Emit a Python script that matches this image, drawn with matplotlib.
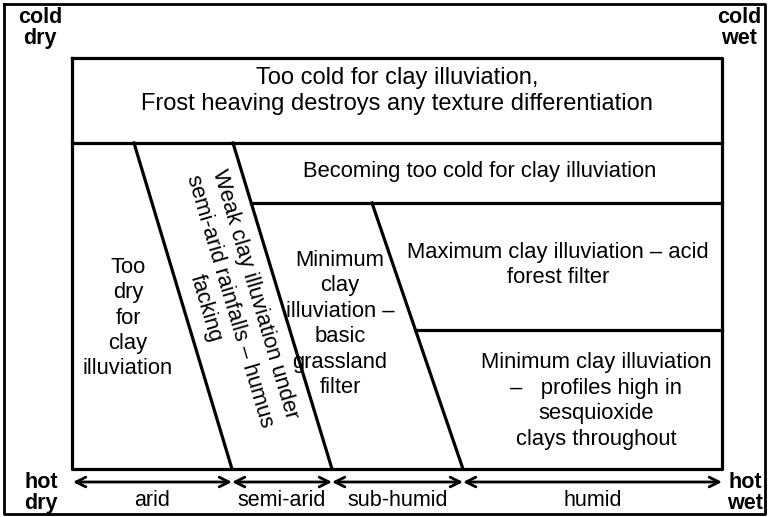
import matplotlib.pyplot as plt

plt.rcParams['font.family'] = ['Liberation Sans', 'DejaVu Sans']

# moisture zones along the bottom axis (pixel x positions of boundaries)
zone_labels = ['arid', 'semi-arid', 'sub-humid', 'humid']
zone_edges = [73, 232, 332, 463, 722]

# inner diagram frame
left, right, top, bottom = 72, 722, 58, 469
row_tops = [143, 203, 330]

# sloping boundaries: (x at top, y at top, x at bottom)
diagonals = [(134, 143, 232), (233, 143, 332), (372, 203, 463)]

# text, x, y, rotation, fontsize
region_texts = [
    ('Too cold for clay illuviation,\nFrost heaving destroys any texture differentiation', 397, 91, 0, 17),
    ('Becoming too cold for clay illuviation', 480, 172, 0, 15.8),
    ('Too\ndry\nfor\nclay\nilluviation', 128, 318, 0, 15.8),
    ('Weak clay illuviation under\nsemi-arid rainfalls \u2013 humus\nfacking', 230, 301, -73.5, 15.8),
    ('Minimum\nclay\nilluviation \u2013\nbasic\ngrassland\nfilter', 340, 324, 0, 15.8),
    ('Maximum clay illuviation \u2013 acid\nforest filter', 558, 265, 0, 15.8),
    ('Minimum clay illuviation\n\u2013   profiles high in\nsesquioxide\nclays throughout', 596, 401, 0, 15.8),
]

corner_labels = [('cold\ndry', 40, 28), ('cold\nwet', 739, 28),
                 ('hot\ndry', 41, 493), ('hot\nwet', 745, 493)]

fig = plt.figure(figsize=(7.69, 5.17), dpi=100)
ax = fig.add_axes([0, 0, 1, 1])
ax.set_xlim(0, 769)
ax.set_ylim(517, 0)
ax.axis('off')

lw = 2.3
# outer border
ax.plot([4, 765, 765, 4, 4], [4, 4, 514, 514, 4], color='black', lw=2.0)
# inner frame
ax.plot([left, right, right, left, left], [top, top, bottom, bottom, top], color='black', lw=lw)
ax.plot([left, right], [row_tops[0], row_tops[0]], color='black', lw=lw)

for xt, yt, xb in diagonals:
    ax.plot([xt, xb], [yt, bottom], color='black', lw=lw)

# horizontal boundaries starting on the diagonals
def x_on(d, y):
    xt, yt, xb = d
    return xt + (xb - xt) * (y - yt) / (bottom - yt)

ax.plot([x_on(diagonals[1], row_tops[1]), right], [row_tops[1]] * 2, color='black', lw=lw)
ax.plot([x_on(diagonals[2], row_tops[2]), right], [row_tops[2]] * 2, color='black', lw=lw)

for txt, x, y, rot, fs in region_texts:
    ax.text(x, y, txt, ha='center', va='center', ma='center', rotation=rot,
            rotation_mode='anchor', fontsize=fs, linespacing=1.28 if fs < 17 else 1.2)

# arrows and zone labels
for i, lab in enumerate(zone_labels):
    x0, x1 = zone_edges[i], zone_edges[i + 1]
    ax.annotate('', xy=(x1, 482), xytext=(x0, 482),
                arrowprops=dict(arrowstyle='<->,head_length=0.7,head_width=0.35',
                                color='black', lw=2.0, shrinkA=0, shrinkB=0))
    ax.text((x0 + x1) / 2, 500, lab, ha='center', va='center', fontsize=15.5)

for txt, x, y in corner_labels:
    ax.text(x, y, txt, ha='center', va='center', fontsize=15.5,
            fontweight='bold', linespacing=0.95)

fig.savefig('out.png', dpi=100)
